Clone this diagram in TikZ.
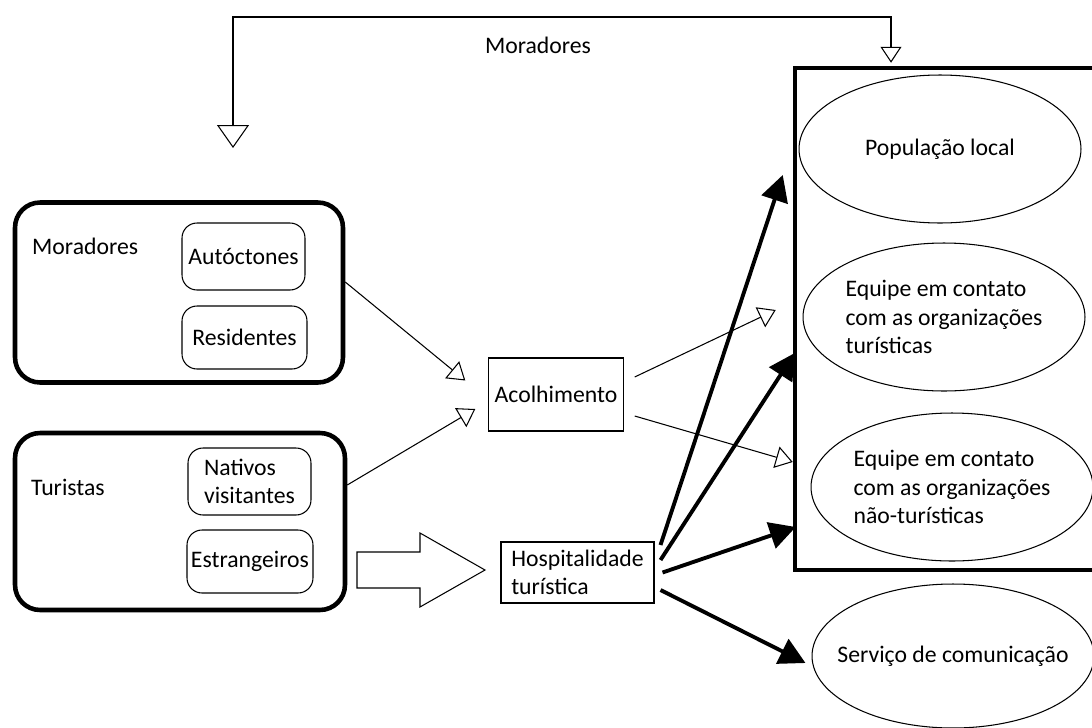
\documentclass[tikz,border=0pt]{standalone}
\usepackage{fontspec}
\setmainfont{Carlito}
\usetikzlibrary{arrows.meta,positioning,calc,shapes.geometric}

\begin{document}
\begin{tikzpicture}[
    x=0.02cm, y=-0.02cm,
    every node/.style={font=\fontsize{13.5}{16}\selectfont},
    group/.style={draw, line width=2.6pt, rounded corners=0.5cm},
    member/.style={draw, line width=0.6pt, rounded corners=0.3cm, align=left, inner sep=2pt},
    stage/.style={draw, line width=0.6pt, align=left},
    actor/.style={ellipse, draw, line width=0.6pt, minimum width=5.64cm, minimum height=2.96cm, align=left, inner ysep=0pt, inner xsep=-0.12cm},
    thinarrow/.style={line width=0.6pt, -{Triangle[open,length=0.34cm,width=0.44cm]}},
    boldarrow/.style={line width=2.2pt, -{Triangle[length=0.52cm,width=0.54cm]}}
  ]
  \clip (0,0) rectangle (1092,727);

  % left groups
  \node[group, minimum width=6.56cm, minimum height=3.6cm] (mor) at (179,292.5) {};
  \node[right] (morlabel) at (26,246) {Moradores};
  \node[member, minimum width=2.46cm, minimum height=1.34cm] (auto) at (243.5,256.5) {Autóctones};
  \node[member, minimum width=2.5cm, minimum height=1.26cm] (resi) at (244.5,337.5) {Residentes};

  \node[group, minimum width=6.6cm, minimum height=3.54cm] (tur) at (180,521.5) {};
  \node[right] (turlabel) at (25,487) {Turistas};
  \node[member, minimum width=2.46cm, minimum height=1.34cm] (nati) at (249.5,481.5) {Nativos\\visitantes};
  \node[member, minimum width=2.52cm, minimum height=1.26cm] (estr) at (250,561.5) {Estrangeiros};

  % middle stages
  \node[stage, minimum width=2.64cm, minimum height=1.46cm] (acol) at (556,394.5) {Acolhimento};
  \node[stage, minimum width=3.06cm, minimum height=1.22cm] (hosp) at (577.5,572.5) {Hospitalidade\\turística};

  % right frame and actors
  \node[draw, line width=2.6pt, minimum width=6.1cm, minimum height=10.04cm] (frame) at (947.5,319) {};
  \node[actor] (popl) at (940,149) {População local};
  \node[actor] (eqtu) at (944,317) {Equipe em contato\\com as organizações\\turísticas};
  \node[actor] (eqnt) at (952,487) {Equipe em contato\\com as organizações\\não-turísticas};
  \node[actor, minimum height=2.88cm, inner xsep=-0.4cm] (serv) at (953,656) {Serviço de comunicação};

  % top loop
  \coordinate (loop) at (233,148);
  \draw[line width=0.6pt, {Triangle[open,length=0.46cm,width=0.64cm]}-{Triangle[open,length=0.32cm,width=0.42cm]}]
    (loop) -- (233,17) -- (891,17) -- ($(frame.north -| 891,0)+(0,-3)$);
  \node (looplabel) at (538,45) {Moradores};

  % inputs to acolhimento
  \draw[thinarrow] (mor.east |- 0,282) -- ($(acol.west)+(-23,-14)$);
  \draw[thinarrow] (tur.east |- 0,485) -- ($(acol.west)+(-13,14.5)$);

  % acolhimento outputs
  \draw[thinarrow] ($(acol.east)+(11,-17.5)$) -- ($(frame.west |- 0,310)+(-17,0)$);
  \draw[thinarrow] ($(acol.east)+(11,21.5)$) -- (frame.west |- 0,462);

  % block arrow to hospitalidade
  \draw[line width=0.6pt] (357,552) -- (420,552) -- (420,533) -- (485,570) -- (420,607) -- (420,588) -- (357,588) -- cycle;

  % hospitalidade outputs
  \draw[boldarrow] ($(hosp.east)+(6,-27.5)$) -- ($(frame.west |- 0,175)+(-10,0)$);
  \draw[boldarrow] ($(hosp.east)+(6,-12.5)$) -- ($(frame.west |- 0,353)+(2,0)$);
  \draw[boldarrow] ($(hosp.east)+(8,0)$) -- ($(frame.west |- 0,527)+(3,0)$);
  \draw[boldarrow] ($(hosp.east)+(6,17.5)$) -- ($(serv.west)+(-6,7)$);
\end{tikzpicture}
\end{document}
